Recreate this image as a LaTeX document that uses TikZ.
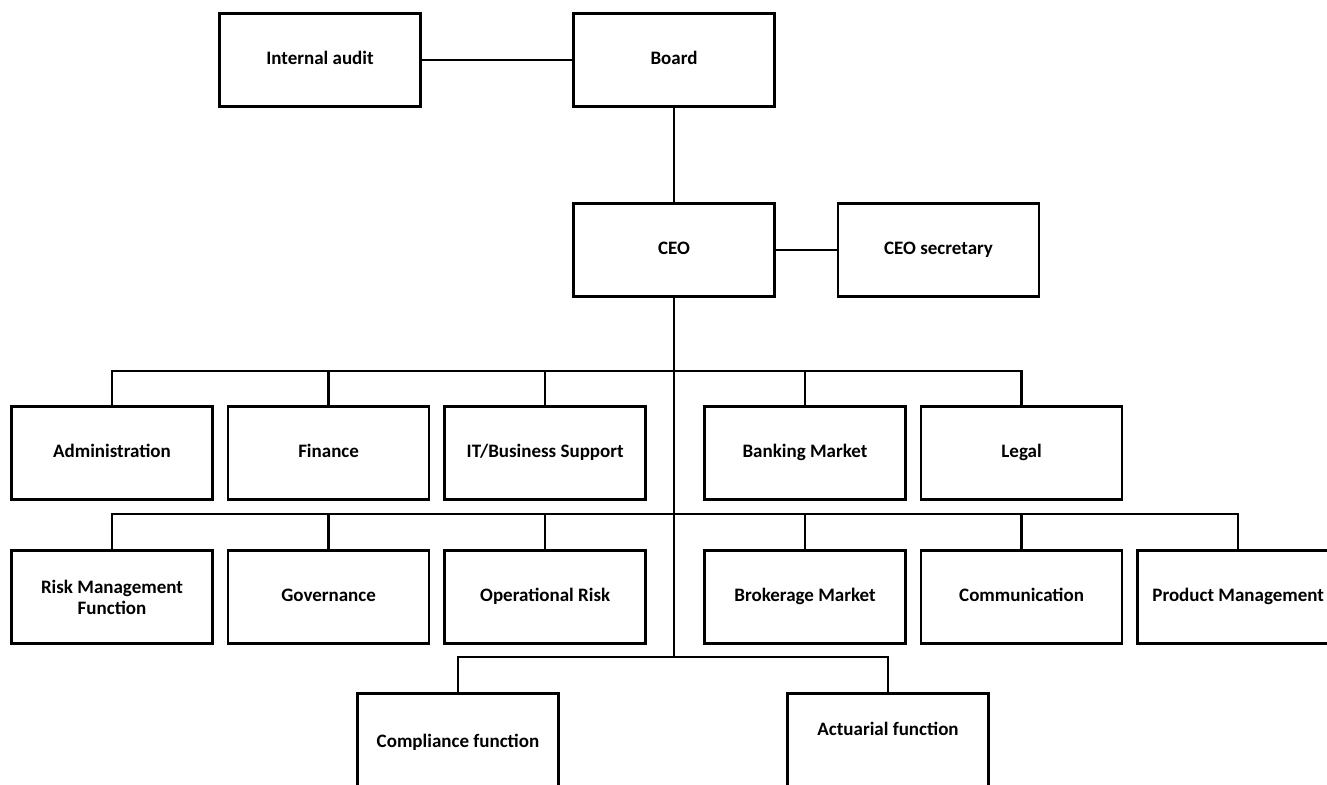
\documentclass[tikz,border=0pt]{standalone}
\usepackage{fontspec}
\setmainfont{Carlito}
\usetikzlibrary{positioning}

\begin{document}
\begin{tikzpicture}[x=1pt, y=-1pt,
            unit/.style={draw, line width=2.6pt, minimum width=201pt, minimum height=93pt, align=center, inner sep=2pt, text height=13pt, text depth=4pt, font=\fontsize{19}{21}\selectfont\bfseries},
            link/.style={line width=2.5pt}
        ]
            \useasboundingbox (0,0) rectangle (1327,784);
            \clip (0,0) rectangle (1327,784);

            % top of the chart
            \node[unit] (board) at (674,60) {Board};
            \node[unit] (audit) at (320,60) {Internal audit};
            \node[unit] (ceo) at (674,250) {CEO};
            \node[unit, right=61pt of ceo] (secretary) {CEO secretary};

            % first row
            \node[unit] (admin) at (112,453) {Administration};
            \node[unit, right=13pt of admin] (finance) {Finance};
            \node[unit, right=13pt of finance] (itsupport) {IT/Business Support};
            \node[unit] (banking) at (805,453) {Banking Market};
            \node[unit, right=13pt of banking] (legal) {Legal};

            % second row
            \node[unit, text height=, text depth=] (riskmgmt) at (112,597) {Risk Management\\Function};
            \node[unit, right=13pt of riskmgmt] (governance) {Governance};
            \node[unit, right=13pt of governance] (oprisk) {Operational Risk};
            \node[unit] (brokerage) at (805,597) {Brokerage Market};
            \node[unit, right=13pt of brokerage] (communication) {Communication};
            \node[unit, right=13pt of communication] (product) {Product Management};

            % third row
            \node[unit, anchor=north, minimum height=100pt] (compliance) at (458,692) {Compliance function};
            \node[unit, anchor=north, minimum height=100pt, text depth=28pt] (actuarial) at (888,692) {Actuarial function};

            \coordinate (bus1) at (674,371);
            \coordinate (bus2) at (674,514);
            \coordinate (bus3) at (674,657);

            \draw[link] (audit) -- (board);
            \draw[link] (board) -- (ceo);
            \draw[link] (ceo) -- (secretary);
            \draw[link] (ceo.south) -- (bus3);

            \draw[link] (admin.north) |- (bus1) -| (legal.north);
            \foreach \n in {finance, itsupport, banking}
                \draw[link] (\n.north) -- (\n.north |- bus1);

            \draw[link] (riskmgmt.north) |- (bus2) -| (product.north);
            \foreach \n in {governance, oprisk, brokerage, communication}
                \draw[link] (\n.north) -- (\n.north |- bus2);

            \draw[link] (compliance.north) |- (bus3) -| (actuarial.north);
        \end{tikzpicture}
\end{document}
